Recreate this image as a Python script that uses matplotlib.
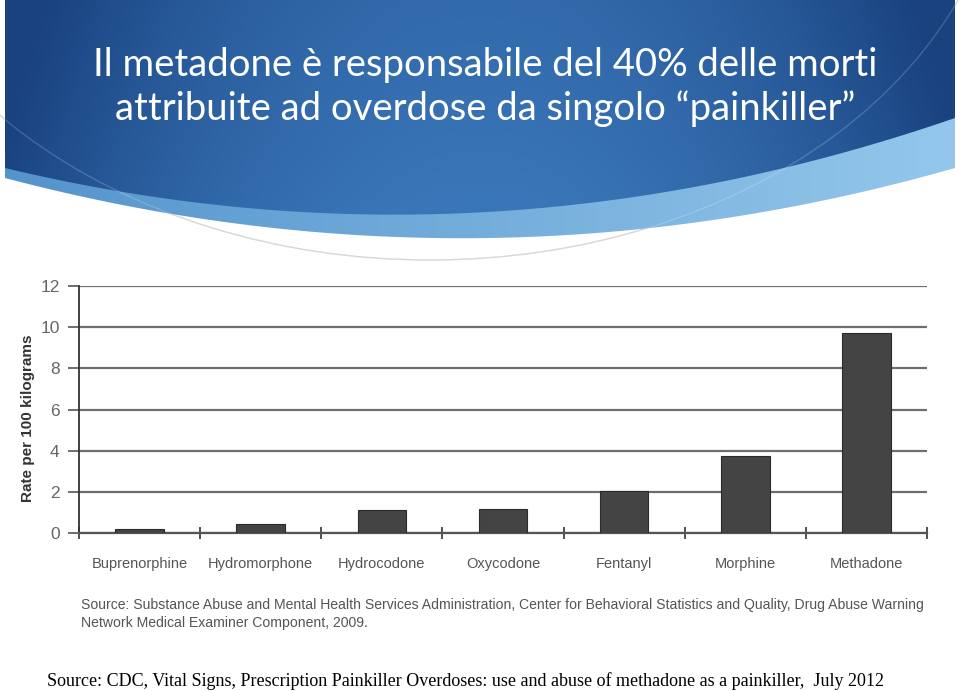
import numpy as np
import matplotlib.pyplot as plt
from matplotlib.patches import Polygon, Arc

# dati
drugs = ["Buprenorphine", "Hydromorphone", "Hydrocodone", "Oxycodone",
         "Fentanyl", "Morphine", "Methadone"]
rates = [0.2, 0.45, 1.1, 1.15, 2.05, 3.72, 9.7]
yticks = [0, 2, 4, 6, 8, 10, 12]

title = "Il metadone è responsabile del 40% delle morti\nattribuite ad overdose da singolo \u201cpainkiller\u201d"
src1 = ("Source: Substance Abuse and Mental Health Services Administration, Center for Behavioral "
        "Statistics and Quality, Drug Abuse Warning\nNetwork Medical Examiner Component, 2009.")
src2 = ("Source: CDC, Vital Signs, Prescription Painkiller Overdoses: use and abuse of methadone "
        "as a painkiller,  July 2012")

narrow = ["Liberation Sans", "DejaVu Sans"]

fig = plt.figure(figsize=(9.6, 6.91), dpi=100)

# sfondo (coordinate in pixel)
bg = fig.add_axes([0, 0, 1, 1])
bg.set_xlim(0, 960)
bg.set_ylim(691, 0)
bg.axis("off")

def quad(p0, p1, p2, x):
    c = np.polyfit([p0[0], p1[0], p2[0]], [p0[1], p1[1], p2[1]], 2)
    return np.polyval(c, x)

xs = np.linspace(5, 955, 100)
dark_edge = quad((5, 168), (440, 214), (955, 118), xs)
band_edge = quad((5, 178), (490, 238), (955, 168), xs)

# arco grigio sottile (sotto il blu)
arc = Arc((430, -170), 1150, 860, theta1=0, theta2=180, angle=0,
          color="#d0d0d0", lw=1, zorder=0.5)
bg.add_patch(arc)

# banda chiara
band = Polygon(np.r_[[[5, 0]], np.c_[xs, band_edge], [[955, 0]]], closed=True,
               facecolor="none", edgecolor="none")
bg.add_patch(band)
gx = np.linspace(0, 1, 300)
band_img = np.zeros((2, 300, 3))
for i, (a, b) in enumerate(zip([0.33, 0.58, 0.80], [0.58, 0.78, 0.92])):
    band_img[:, :, i] = a + (b - a) * gx
im = bg.imshow(band_img, extent=[5, 955, 260, 0], aspect="auto", zorder=1)
im.set_clip_path(band)

# parte blu scura
dark = Polygon(np.r_[[[5, 0]], np.c_[xs, dark_edge], [[955, 0]]], closed=True,
               facecolor="none", edgecolor="none")
bg.add_patch(dark)
X, Y = np.meshgrid(np.linspace(-1, 1, 400), np.linspace(0, 1, 200))
t = np.clip(1 - (X ** 2) * 0.9 - (1 - Y) * 0.25, 0, 1)
edge_c = np.array([0.10, 0.26, 0.50])
mid_c = np.array([0.23, 0.47, 0.73])
dark_img = edge_c + (mid_c - edge_c) * t[:, :, None]
im2 = bg.imshow(dark_img, extent=[5, 955, 230, 0], aspect="auto", zorder=2)
im2.set_clip_path(dark)

# riflesso dell'arco sul blu
arc2 = Arc((430, -170), 1150, 860, theta1=0, theta2=180, angle=0,
           color="white", lw=1, alpha=0.18, zorder=3)
bg.add_patch(arc2)
bg.set_ylim(691, 0)

fig.text(485 / 960, 1 - 87 / 691, title, color="white", fontsize=27.5,
         family=["Lato", "DejaVu Sans"], ha="center", va="center",
         linespacing=1.22, zorder=5)

# grafico a barre
ax = fig.add_axes([79 / 960, 1 - 533 / 691, 848 / 960, 247 / 691])
ax.patch.set_alpha(0)
x = np.arange(len(drugs))
ax.bar(x, rates, width=0.4, color="#444444", edgecolor="#2a2a2a", lw=0.8, zorder=3)
ax.set_xlim(-0.5, 6.5)
ax.set_ylim(0, 12)
ax.set_yticks(yticks)
ax.yaxis.grid(True, color="#6e6e6e", lw=1.6, zorder=1)
ax.set_axisbelow(True)
for s in ["top", "right"]:
    ax.spines[s].set_visible(False)
ax.spines["left"].set_color("#333333")
ax.spines["left"].set_linewidth(1.3)
ax.spines["bottom"].set_color("#555555")
ax.spines["bottom"].set_linewidth(1.6)
ax.set_xticks(np.arange(-0.5, 7, 1))
ax.set_xticklabels([])
ax.tick_params(axis="x", which="major", direction="inout", length=9, width=1.2, color="#333333")
ax.set_xticks(x, minor=True)
ax.set_xticklabels(drugs, minor=True, color="#555555", fontsize=10.5, family=narrow)
ax.tick_params(axis="x", which="minor", length=0, pad=17)
ax.tick_params(axis="y", direction="out", length=8, width=1.2, color="#555555",
               labelcolor="#666666", labelsize=12.5, pad=6)
for lab in ax.get_yticklabels():
    lab.set_family(narrow)

fig.text(28 / 960, 1 - 418 / 691, "Rate per 100 kilograms", rotation=90,
         ha="center", va="center", fontsize=11, fontweight="bold", color="#333333",
         family=narrow)

fig.text(81 / 960, 1 - 614 / 691, src1, color="#555555", fontsize=10.1,
         family=narrow, ha="left", va="center", linespacing=1.35)
fig.text(47 / 960, 1 - 681 / 691, src2, color="black", fontsize=13.0,
         family=["Liberation Serif", "DejaVu Serif"], ha="left", va="center")

fig.savefig("out.png", dpi=100)
